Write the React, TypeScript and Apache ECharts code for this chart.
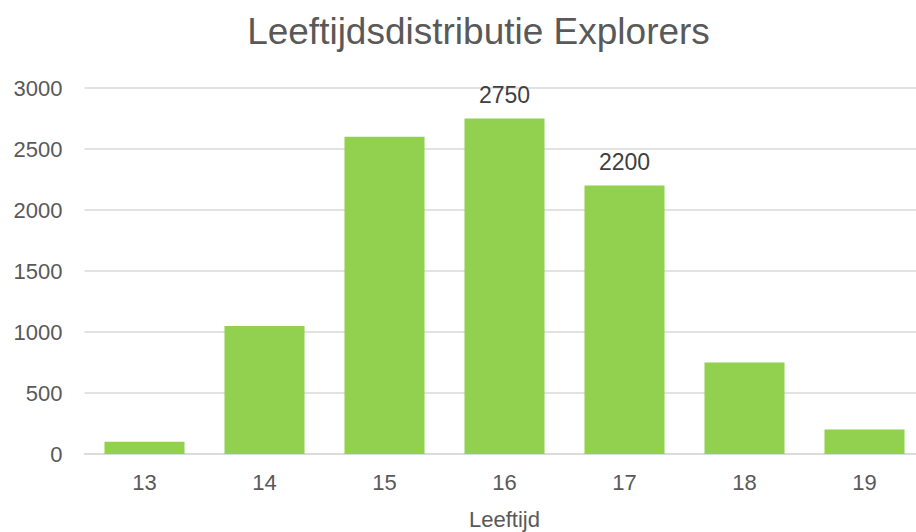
import React, { useEffect, useRef } from "react";
import * as echarts from "echarts";

const categories = ["13", "14", "15", "16", "17", "18", "19"];
const counts = [100, 1050, 2600, 2750, 2200, 750, 200];
const labelledCategories = ["16", "17"];
const yTicks = { min: 0, max: 3000, interval: 500 };
const titleText = "Leeftijdsdistributie Explorers";
const xAxisName = "Leeftijd";

export default function App() {
  const ref = useRef<HTMLDivElement>(null);
  useEffect(() => {
    document.body.style.margin = "0";
    if (!ref.current) return;
    const chart = echarts.init(ref.current, null, { renderer: "svg" });
    const font = "'Liberation Sans', Arial, sans-serif";
    chart.setOption({
      animation: false,
      textStyle: { fontFamily: font },
      title: {
        text: titleText,
        left: 473.5,
        top: 8,
        textAlign: "center",
        textStyle: { fontFamily: font, fontSize: 37, fontWeight: "normal", color: "#595959" },
      },
      grid: {
        left: 84.5,
        top: 88,
        width: 840,
        height: 366,
        containLabel: false,
        outerBoundsMode: "none",
      },
      xAxis: {
        type: "category",
        data: categories,
        name: xAxisName,
        nameLocation: "middle",
        nameGap: 54,
        nameTextStyle: { fontFamily: font, fontSize: 22, color: "#595959" },
        axisLine: { lineStyle: { color: "#d9d9d9", width: 1.5 } },
        axisTick: { show: false },
        axisLabel: { fontFamily: font, fontSize: 22, color: "#595959", margin: 17 },
      },
      yAxis: {
        type: "value",
        min: yTicks.min,
        max: yTicks.max,
        interval: yTicks.interval,
        axisLine: { show: false },
        axisTick: { show: false },
        axisLabel: {
          fontFamily: font,
          fontSize: 22,
          color: "#595959",
          margin: 22,
          formatter: (v: number) => String(v),
        },
        splitLine: { lineStyle: { color: "#d9d9d9", width: 1.5 } },
      },
      series: [
        {
          type: "bar",
          barCategoryGap: "33.3%",
          itemStyle: { color: "#92D050" },
          data: counts.map((v, i) => ({
            value: v,
            label: {
              show: labelledCategories.includes(categories[i]),
              position: "top",
              distance: 12,
              fontFamily: font,
              fontSize: 23,
              color: "#404040",
            },
          })),
        },
      ],
    });
    return () => chart.dispose();
  }, []);
  return <div ref={ref} style={{ width: 916, height: 532 }} />;
}
